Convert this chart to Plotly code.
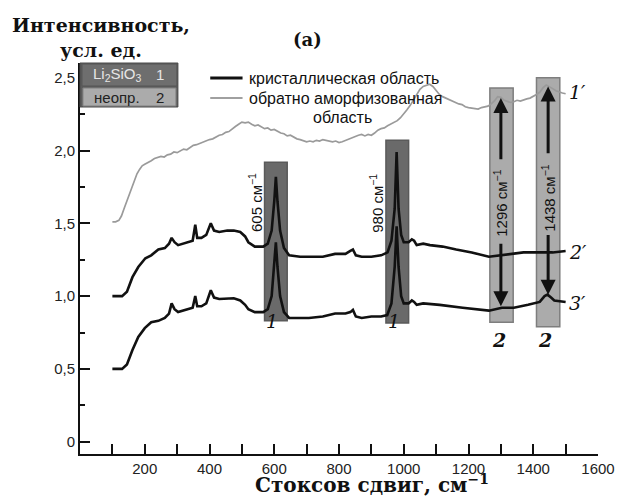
import plotly.graph_objects as go

# ---------------- data ----------------
shift_2 = [100, 130, 145, 162, 180, 202, 220, 242, 262, 275, 283, 292, 303, 320, 335, 348, 356, 362, 375, 390,
           404, 414, 430, 455, 475, 495, 510, 520, 540, 566, 580, 592, 600, 605, 610, 618, 630, 646, 680, 707,
           750, 788, 820, 835, 843, 852, 870, 900, 930, 950, 962, 972, 978, 984, 992, 1000, 1015, 1025, 1032,
           1040, 1060, 1081, 1120, 1162, 1210, 1263, 1300, 1323, 1370, 1414, 1460, 1500]
int_2 = [1.00, 1.00, 1.03, 1.13, 1.20, 1.26, 1.28, 1.32, 1.33, 1.36, 1.40, 1.37, 1.35, 1.36, 1.37, 1.38, 1.49, 1.40, 1.40, 1.42,
         1.50, 1.45, 1.44, 1.45, 1.45, 1.44, 1.41, 1.37, 1.34, 1.34, 1.36, 1.45, 1.65, 1.82, 1.65, 1.45, 1.33, 1.28, 1.27, 1.27,
         1.27, 1.29, 1.29, 1.31, 1.32, 1.28, 1.27, 1.27, 1.28, 1.30, 1.38, 1.60, 1.99, 1.60, 1.42, 1.37, 1.37, 1.39, 1.38,
         1.35, 1.36, 1.35, 1.34, 1.32, 1.30, 1.27, 1.28, 1.29, 1.30, 1.30, 1.30, 1.31]

shift_3 = [100, 130, 145, 162, 180, 200, 220, 242, 262, 275, 283, 292, 303, 320, 335, 348, 356, 362, 375, 390,
           404, 414, 430, 455, 475, 495, 510, 520, 540, 566, 580, 592, 600, 605, 610, 618, 630, 646, 680, 707,
           750, 788, 820, 835, 843, 852, 870, 900, 930, 949, 962, 972, 978, 984, 992, 1000, 1015, 1025, 1032,
           1040, 1060, 1111, 1182, 1263, 1303, 1340, 1384, 1420, 1435, 1444, 1455, 1465, 1500]
int_3 = [0.50, 0.50, 0.53, 0.63, 0.72, 0.78, 0.82, 0.83, 0.85, 0.88, 0.95, 0.91, 0.89, 0.90, 0.91, 0.92, 1.00, 0.93, 0.93, 0.95,
         1.04, 0.99, 0.98, 0.985, 0.985, 0.97, 0.94, 0.91, 0.89, 0.89, 0.91, 1.00, 1.20, 1.37, 1.20, 1.00, 0.89, 0.85, 0.85, 0.85,
         0.86, 0.88, 0.88, 0.89, 0.905, 0.86, 0.85, 0.86, 0.86, 0.87, 0.95, 1.20, 1.48, 1.20, 1.00, 0.95, 0.95, 0.97, 0.96,
         0.94, 0.95, 0.94, 0.92, 0.90, 0.92, 0.92, 0.94, 0.96, 1.00, 1.01, 0.99, 0.97, 0.96]

shift_1 = [100, 110, 120, 128, 136, 144, 152, 160, 168, 176, 184, 192, 200, 210, 220, 230, 240, 250, 260, 270,
           280, 290, 300, 310, 320, 330, 340, 350, 360, 370, 380, 390, 400, 410, 420, 430, 440, 450, 460, 470,
           480, 490, 500, 510, 520, 530, 540, 550, 560, 570, 580, 590, 600, 610, 620, 630, 640, 650, 660, 670,
           680, 690, 700, 710, 720, 730, 740, 750, 760, 770, 780, 790, 800, 810, 820, 830, 840, 850, 860, 870,
           880, 890, 900, 910, 920, 930, 940, 950, 960, 970, 980, 990, 1000, 1010, 1020, 1030, 1040, 1050, 1060,
           1070, 1080, 1090, 1100, 1110, 1120, 1130, 1140, 1150, 1160, 1170, 1180, 1190, 1200, 1210, 1220, 1230,
           1240, 1250, 1260, 1270, 1280, 1290, 1300, 1310, 1320, 1330, 1340, 1350, 1360, 1370, 1380, 1390, 1400,
           1410, 1420, 1430, 1440, 1450, 1460, 1470, 1480, 1490, 1500]
int_1 = [1.51, 1.51, 1.52, 1.55, 1.60, 1.65, 1.69, 1.74, 1.79, 1.84, 1.87, 1.895, 1.905, 1.915, 1.93, 1.945, 1.95, 1.96, 1.955, 1.97,
         1.975, 1.99, 1.985, 1.995, 2.01, 2.005, 2.02, 2.035, 2.04, 2.05, 2.055, 2.07, 2.075, 2.08, 2.095, 2.105, 2.11, 2.125, 2.13, 2.15,
         2.165, 2.18, 2.195, 2.19, 2.195, 2.18, 2.17, 2.175, 2.16, 2.15, 2.155, 2.14, 2.145, 2.13, 2.12, 2.115, 2.10, 2.105, 2.09, 2.08,
         2.075, 2.07, 2.06, 2.065, 2.06, 2.07, 2.065, 2.075, 2.07, 2.07, 2.06, 2.065, 2.055, 2.06, 2.07, 2.08, 2.09, 2.095, 2.105, 2.11,
         2.10, 2.11, 2.105, 2.12, 2.14, 2.15, 2.155, 2.17, 2.18, 2.19, 2.205, 2.225, 2.25, 2.28, 2.31, 2.35, 2.385, 2.42, 2.44,
         2.45, 2.455, 2.44, 2.41, 2.385, 2.37, 2.36, 2.35, 2.335, 2.33, 2.32, 2.315, 2.30, 2.295, 2.29, 2.29, 2.285,
         2.295, 2.30, 2.305, 2.32, 2.34, 2.37, 2.365, 2.345, 2.335, 2.33, 2.335, 2.345, 2.34, 2.35, 2.355, 2.36, 2.37,
         2.385, 2.40, 2.43, 2.45, 2.44, 2.425, 2.41, 2.40, 2.395, 2.39]

band_pos = [605, 980, 1296, 1438]
band_group = ["1", "1", "2", "2"]
band_labels = ["605 см<sup>−1</sup>", "980 см<sup>−1</sup>", "1296 см<sup>−1</sup>", "1438 см<sup>−1</sup>"]

x_tick_vals = [200, 400, 600, 800, 1000, 1200, 1400, 1600]
y_tick_vals = [0, 0.5, 1.0, 1.5, 2.0, 2.5]
y_tick_text = ["0", "0,5", "1,0", "1,5", "2,0", "2,5"]

# ---------------- layout helpers ----------------
OFF = 8                      # default page body margin
W, H = 627 - OFF, 500 - OFF
L, R, T, B = 80 - OFF, 18, 63 - OFF, 46
PW, PH = W - L - R, H - T - B

def pxx(px):
    return (px - OFF - L) / PW

def pxy(py):
    return (H - B - (py - OFF)) / PH

SANS = "Liberation Sans, Arial, sans-serif"
SERIF = "DejaVu Serif, serif"

fig = go.Figure()

fig.add_trace(go.Scatter(x=shift_1, y=int_1, mode="lines", line=dict(color="#9a9a9a", width=1.7), showlegend=False))
fig.add_trace(go.Scatter(x=shift_2, y=int_2, mode="lines", line=dict(color="#111111", width=2.6), showlegend=False))
fig.add_trace(go.Scatter(x=shift_3, y=int_3, mode="lines", line=dict(color="#111111", width=2.6), showlegend=False))

shapes = []
annotations = []

# band boxes
box_y = {605: (0.83, 1.92), 980: (0.815, 2.07), 1296: (0.82, 2.43), 1438: (0.79, 2.50)}
box_off = {605: 0, 980: 0, 1296: 6, 1438: 8}
for pos, grp in zip(band_pos, band_group):
    y0, y1 = box_y[pos]
    c = pos + box_off[pos]
    hw = 35 if grp == "1" else 36
    if grp == "1":
        fill, border = "#6a6a6a", "#5a5a5a"
    else:
        fill, border = "#ababab", "#7e7e7e"
    shapes.append(dict(type="rect", xref="x", yref="y", x0=c - hw, x1=c + hw, y0=y0, y1=y1,
                       fillcolor=fill, line=dict(color=border, width=1.5), layer="below"))

# rotated band labels
lab_pos = {605: (544, 1.64), 980: (917, 1.64), 1296: (1300, 1.64), 1438: (1446, 1.67)}
for pos, lab in zip(band_pos, band_labels):
    lx, ly = lab_pos[pos]
    annotations.append(dict(x=lx, y=ly, xref="x", yref="y", xanchor="center", yanchor="middle",
                            text=lab, textangle=-90, showarrow=False,
                            font=dict(family=SANS, size=15, color="#111")))

# group numbers under boxes
grp_pos = {605: (593, 0.83), 980: (970, 0.83), 1296: (1293, 0.70), 1438: (1436, 0.70)}
for pos, grp in zip(band_pos, band_group):
    gx, gy = grp_pos[pos]
    txt = "<b><i>" + grp + "</i></b>" if grp == "2" else "<i>" + grp + "</i>"
    annotations.append(dict(x=gx, y=gy, xref="x", yref="y", xanchor="center", yanchor="middle", text=txt,
                            showarrow=False, font=dict(family=SERIF, size=19, color="#111")))

# arrows in light boxes
arrows = [(1300, 2.36, 1.93), (1300, 0.93, 1.37), (1446, 2.44, 1.97), (1446, 1.01, 1.43)]
for ax_, head, tail in arrows:
    annotations.append(dict(x=ax_, y=head, ax=ax_, ay=tail, xref="x", yref="y", axref="x", ayref="y",
                            text="", showarrow=True, arrowhead=2, arrowsize=1.0, arrowwidth=3, arrowcolor="#111"))

# curve labels
for txt, yy in [("1′", 2.40), ("2′", 1.30), ("3′", 0.95)]:
    annotations.append(dict(x=1505, y=yy, xref="x", yref="y", xanchor="left", yanchor="middle",
                            text="<i>" + txt + "</i>",
                            showarrow=False, font=dict(family=SERIF, size=19, color="#111")))

def pann(px, py, text, size=14, color="#111", family=SANS, xanchor="center", yanchor="middle", align="center"):
    annotations.append(dict(x=pxx(px), y=pxy(py), xref="paper", yref="paper", xanchor=xanchor, yanchor=yanchor,
                            align=align, showarrow=False, text=text,
                            font=dict(family=family, size=size, color=color)))

# top-left group legend box
shapes.append(dict(type="rect", xref="paper", yref="paper", x0=pxx(80), x1=pxx(180), y0=pxy(107), y1=pxy(63),
                   fillcolor="#5c5c5c", line=dict(color="#4a4a4a", width=1)))
shapes.append(dict(type="rect", xref="paper", yref="paper", x0=pxx(82), x1=pxx(179), y0=pxy(86), y1=pxy(64),
                   fillcolor="#6e6e6e", line=dict(color="#555", width=1)))
shapes.append(dict(type="rect", xref="paper", yref="paper", x0=pxx(83), x1=pxx(178), y0=pxy(106), y1=pxy(88),
                   fillcolor="#ababab", line=dict(color="#808080", width=1)))
pann(91, 75, "Li<sub>2</sub>SiO<sub>3</sub>", size=15, color="#e6e6e6", xanchor="left")
pann(162, 75, "1", size=15, color="#e6e6e6")
pann(92, 97, "неопр.", size=15, color="#222", xanchor="left")
pann(162, 97, "2", size=15, color="#222")

# line legend
shapes.append(dict(type="line", xref="paper", yref="paper", x0=pxx(213), x1=pxx(246), y0=pxy(78), y1=pxy(78),
                   line=dict(color="#111", width=3)))
shapes.append(dict(type="line", xref="paper", yref="paper", x0=pxx(213), x1=pxx(246), y0=pxy(98), y1=pxy(98),
                   line=dict(color="#a0a0a0", width=2)))
pann(251, 78, "кристаллическая область", size=16, xanchor="left")
pann(251, 98, "обратно аморфизованная", size=16, xanchor="left")
pann(348, 117, "область", size=16)

# titles
pann(101, 12, "<b>Интенсивность,<br>усл. ед.</b>", size=19, family=SERIF, yanchor="top")
pann(312, 40, "<b>(a)</b>", size=18, family=SERIF)
pann(378, 499, "<b>Стоксов сдвиг, см<sup>−1</sup></b>", size=20, family=SERIF, yanchor="bottom")

fig.update_layout(
    width=W, height=H,
    margin=dict(l=L, r=R, t=T, b=B),
    paper_bgcolor="white", plot_bgcolor="white",
    shapes=shapes, annotations=annotations,
    xaxis=dict(range=[0, 1600], tickvals=x_tick_vals, ticks="inside", ticklen=10, tickwidth=1.5,
               tickcolor="#111", showline=True, linecolor="#111", linewidth=2, showgrid=False, zeroline=False,
               tickfont=dict(family=SANS, size=15, color="#222"),
               minor=dict(dtick=100, tick0=0, ticks="inside", ticklen=10, tickwidth=1.5, tickcolor="#111", showgrid=False)),
    yaxis=dict(range=[-0.0845, 2.601], tickvals=y_tick_vals, ticktext=y_tick_text, ticks="inside", ticklen=10,
               tickwidth=1.5, tickcolor="#111", showline=True, linecolor="#111", linewidth=2, showgrid=False,
               zeroline=False, tickfont=dict(family=SANS, size=15, color="#222"),
               minor=dict(dtick=0.25, tick0=0, ticks="inside", ticklen=5, tickwidth=1.5, tickcolor="#111", showgrid=False)),
)

fig.write_html("out.html")
